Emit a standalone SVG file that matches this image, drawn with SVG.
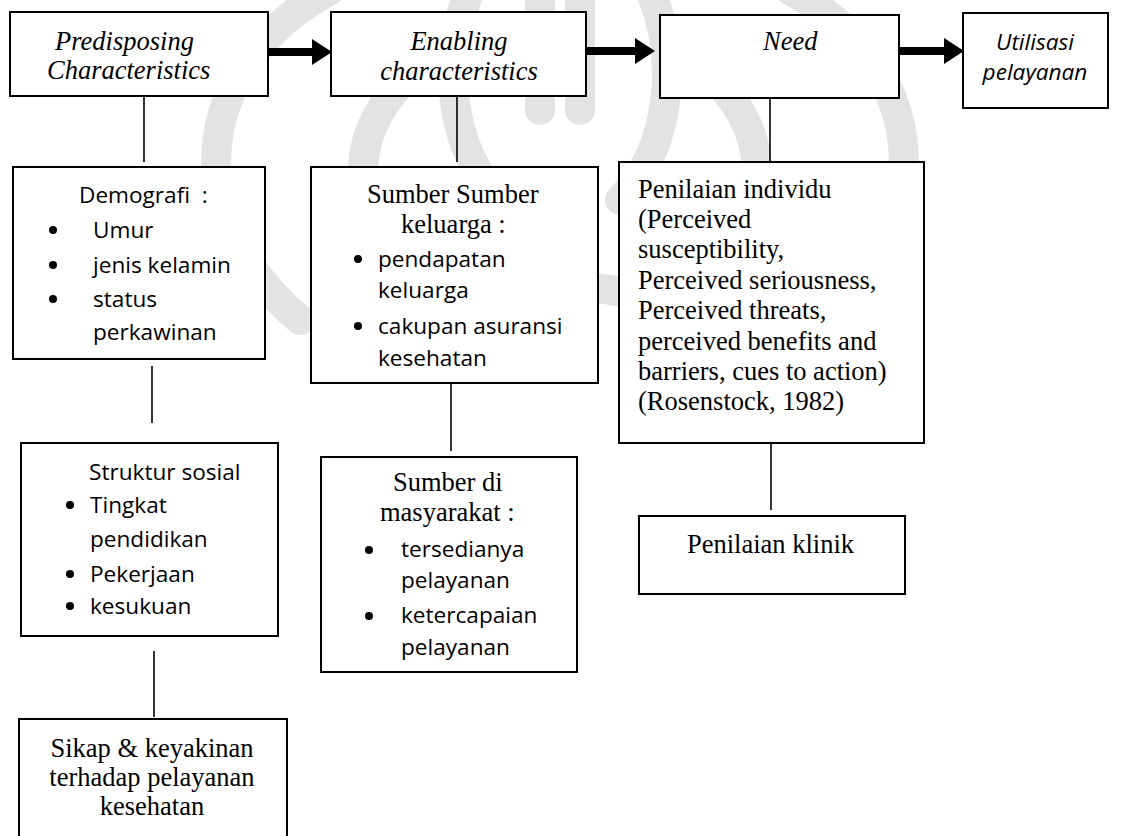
<svg xmlns="http://www.w3.org/2000/svg" width="1131" height="836" viewBox="0 0 1131 836">
  <defs>
    <style>
      .box { fill: #ffffff; stroke: #000000; stroke-width: 2; }
      .link { stroke: #000000; stroke-width: 1.6; fill: none; }
      .flow { stroke: #000000; stroke-width: 8; fill: none; }
      .mark { fill: none; stroke: #e3e3e3; stroke-width: 30; stroke-linecap: round; }
      .serif { font-family: "Liberation Serif", "Times New Roman", serif; font-size: 26.5px; fill: #000; }
      .ital { font-style: italic; }
      .sans { font-family: "Open Sans", "Liberation Sans", sans-serif; font-size: 22.6px; fill: #000; }
      .dot { fill: #000; }
    </style>
    <marker id="head" markerUnits="userSpaceOnUse" markerWidth="20" markerHeight="26" refX="0" refY="13" orient="auto">
      <path d="M0,0 L20,13 L0,26 Z" fill="#000"/>
    </marker>
  </defs>

  <rect x="0" y="0" width="1131" height="836" fill="#ffffff"/>

  <!-- faint background emblem -->
  <g id="emblem">
    <path class="mark" d="M330,-10 C200,60 170,210 300,320"/>
    <path class="mark" d="M790,-10 C920,60 950,210 820,320"/>
    <path class="mark" d="M430,60 C340,120 335,230 450,300"/>
    <path class="mark" d="M690,60 C780,120 785,230 670,300"/>
    <path class="mark" d="M470,-10 C440,60 450,150 500,200"/>
    <path class="mark" d="M650,-10 C680,60 670,150 620,200"/>
    <path class="mark" d="M540,0 L540,110"/>
    <path class="mark" d="M580,0 L580,110"/>
    <path class="mark" d="M390,335 C480,270 640,270 730,335"/>
  </g>

  <!-- connectors -->
  <g id="connectors">
    <line class="flow" x1="268" y1="52" x2="312" y2="52" marker-end="url(#head)"/>
    <line class="flow" x1="587" y1="51" x2="635" y2="51" marker-end="url(#head)"/>
    <line class="flow" x1="899" y1="51" x2="944" y2="51" marker-end="url(#head)"/>
    <line class="link" x1="144" y1="96" x2="144" y2="162"/>
    <line class="link" x1="152" y1="366" x2="152" y2="423"/>
    <line class="link" x1="154" y1="651" x2="154" y2="717"/>
    <line class="link" x1="457" y1="96" x2="457" y2="162"/>
    <line class="link" x1="451" y1="383" x2="451" y2="451"/>
    <line class="link" x1="770" y1="98" x2="770" y2="162"/>
    <line class="link" x1="771" y1="443" x2="771" y2="510"/>
  </g>

  <g id="predisposing">
    <rect class="box" x="10" y="12" width="258" height="84"/>
    <text class="serif ital" x="55" y="50">Predisposing</text>
    <text class="serif ital" x="47" y="79">Characteristics</text>
  </g>

  <g id="enabling">
    <rect class="box" x="331" y="12" width="255" height="84"/>
    <text class="serif ital" x="459" y="50" text-anchor="middle">Enabling</text>
    <text class="serif ital" x="459" y="80" text-anchor="middle">characteristics</text>
  </g>

  <g id="need">
    <rect class="box" x="660" y="15" width="239" height="83"/>
    <text class="serif ital" x="763" y="50">Need</text>
  </g>

  <g id="utilisasi">
    <rect class="box" x="963" y="13" width="145" height="95"/>
    <text class="sans ital" x="1035" y="50" text-anchor="middle">Utilisasi</text>
    <text class="sans ital" x="1035" y="80" text-anchor="middle">pelayanan</text>
  </g>

  <g id="demografi">
    <rect class="box" x="13" y="167" width="252" height="192"/>
    <text class="sans" x="79" y="203" xml:space="preserve">Demografi  :</text>
    <circle class="dot" cx="53" cy="230" r="4"/>
    <text class="sans" x="93" y="238">Umur</text>
    <circle class="dot" cx="53" cy="265" r="4"/>
    <text class="sans" x="93" y="273">jenis kelamin</text>
    <circle class="dot" cx="53" cy="299" r="4"/>
    <text class="sans" x="93" y="307">status</text>
    <text class="sans" x="93" y="340">perkawinan</text>
  </g>

  <g id="struktur-sosial">
    <rect class="box" x="21" y="443" width="257" height="193"/>
    <text class="sans" x="89" y="480">Struktur sosial</text>
    <circle class="dot" cx="70" cy="505" r="4"/>
    <text class="sans" x="90" y="513">Tingkat</text>
    <text class="sans" x="90" y="547">pendidikan</text>
    <circle class="dot" cx="70" cy="574" r="4"/>
    <text class="sans" x="90" y="582">Pekerjaan</text>
    <circle class="dot" cx="70" cy="606" r="4"/>
    <text class="sans" x="90" y="614">kesukuan</text>
  </g>

  <g id="sikap">
    <rect class="box" x="19" y="719" width="268" height="140"/>
    <text class="serif" x="152" y="757" text-anchor="middle">Sikap &amp; keyakinan</text>
    <text class="serif" x="152" y="786" text-anchor="middle">terhadap pelayanan</text>
    <text class="serif" x="152" y="815" text-anchor="middle">kesehatan</text>
  </g>

  <g id="sumber-keluarga">
    <rect class="box" x="311" y="167" width="287" height="216"/>
    <text class="serif" x="367" y="203">Sumber Sumber</text>
    <text class="serif" x="401" y="233">keluarga :</text>
    <circle class="dot" cx="358" cy="259" r="4"/>
    <text class="sans" x="378" y="267">pendapatan</text>
    <text class="sans" x="378" y="298">keluarga</text>
    <circle class="dot" cx="358" cy="326" r="4"/>
    <text class="sans" x="378" y="334">cakupan asuransi</text>
    <text class="sans" x="378" y="366">kesehatan</text>
  </g>

  <g id="sumber-masyarakat">
    <rect class="box" x="321" y="457" width="256" height="215"/>
    <text class="serif" x="393" y="491">Sumber di</text>
    <text class="serif" x="380" y="521">masyarakat :</text>
    <circle class="dot" cx="369" cy="550" r="4"/>
    <text class="sans" x="401" y="557">tersedianya</text>
    <text class="sans" x="401" y="588">pelayanan</text>
    <circle class="dot" cx="369" cy="616" r="4"/>
    <text class="sans" x="401" y="623">ketercapaian</text>
    <text class="sans" x="401" y="655">pelayanan</text>
  </g>

  <g id="penilaian-individu">
    <rect class="box" x="619" y="162" width="305" height="281"/>
    <text class="serif" x="638" y="198">Penilaian individu</text>
    <text class="serif" x="638" y="228">(Perceived</text>
    <text class="serif" x="638" y="258">susceptibility,</text>
    <text class="serif" x="638" y="289">Perceived seriousness,</text>
    <text class="serif" x="638" y="319">Perceived threats,</text>
    <text class="serif" x="638" y="350">perceived benefits and</text>
    <text class="serif" x="638" y="380">barriers, cues to action)</text>
    <text class="serif" x="638" y="410">(Rosenstock, 1982)</text>
  </g>

  <g id="penilaian-klinik">
    <rect class="box" x="639" y="516" width="266" height="78"/>
    <text class="serif" x="687" y="553">Penilaian klinik</text>
  </g>
</svg>
